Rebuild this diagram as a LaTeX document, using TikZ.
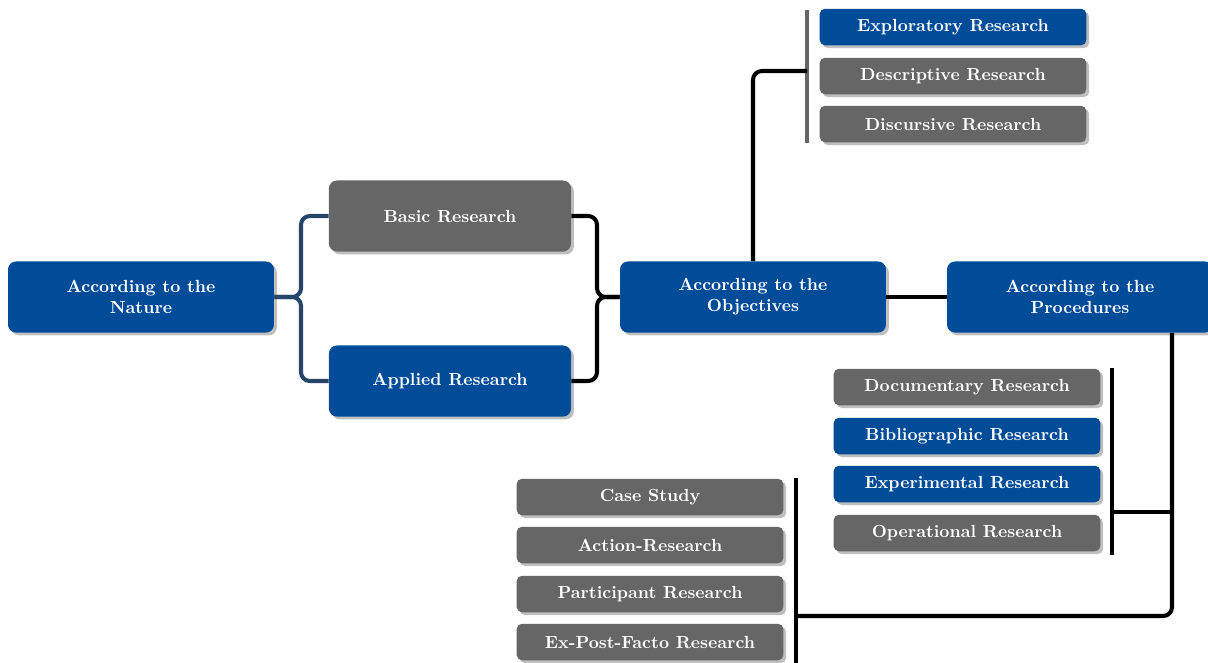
\documentclass[tikz,border=0pt]{standalone}
\usetikzlibrary{shadows}
\definecolor{boxblue}{RGB}{0,76,153}
\definecolor{boxgray}{RGB}{102,102,102}
\definecolor{bracecol}{RGB}{38,70,105}
\begin{document}
\begin{tikzpicture}[x=0.57pt,y=-0.57pt,
  base/.style={rounded corners=4.5pt, text=white, font=\bfseries, align=center,
    inner sep=0pt, drop shadow={shadow xshift=1.6pt, shadow yshift=-1.6pt, fill=black!25, opacity=1}},
  big/.style={base, minimum width=151.6pt, minimum height=40.5pt},
  mid/.style={base, minimum width=138pt, minimum height=40.5pt},
  small/.style={base, rounded corners=3pt, minimum width=152pt, minimum height=20.8pt},
  bluebox/.style={fill=boxblue},
  greybox/.style={fill=boxgray},
  link/.style={line width=2.3pt, rounded corners=5pt},
  bar/.style={line width=2.3pt},
]
\useasboundingbox (0,0) rectangle (1208,662);

% main row
\node[big, bluebox] (nat)  at (141,297)  {According to the\\Nature};
\node[mid, greybox] (bas)  at (450,216)  {Basic Research};
\node[mid, bluebox] (app)  at (450,381)  {Applied Research};
\node[big, bluebox] (obj)  at (753,297)  {According to the\\Objectives};
\node[big, bluebox] (proc) at (1080,297) {According to the\\Procedures};

% objectives list
\node[small, bluebox] (exp) at (953,27)  {Exploratory Research};
\node[small, greybox] (des) at (953,76)  {Descriptive Research};
\node[small, greybox] (dis) at (953,124) {Discursive Research};

% procedures list
\node[small, greybox] (doc) at (967,387) {Documentary Research};
\node[small, bluebox] (bib) at (967,436) {Bibliographic Research};
\node[small, bluebox] (exr) at (967,484) {Experimental Research};
\node[small, greybox] (ope) at (967,533) {Operational Research};

% lower list
\node[small, greybox] (cas) at (650,497) {Case Study};
\node[small, greybox] (act) at (650,545) {Action-Research};
\node[small, greybox] (par) at (650,594) {Participant Research};
\node[small, greybox] (exf) at (650,642) {Ex-Post-Facto Research};

% bars and junction points
\coordinate (tbA) at (807,10);
\coordinate (tbB) at (807,143);
\coordinate (tbJ) at (807,71);
\coordinate (rbA) at (1112,368);
\coordinate (rbB) at (1112,555);
\coordinate (rbJ) at (1112,512);
\coordinate (lbA) at (796,478);
\coordinate (lbB) at (796,666);
\coordinate (lbJ) at (796,616);
\coordinate (pv)  at (1172,0);
\coordinate (pvJ) at (1172,512);

\draw[bar, boxgray] (tbA) -- (tbB);
\draw[bar] (rbA) -- (rbB);
\draw[bar] (lbA) -- (lbB);

% connectors
\draw[link, bracecol] (bas.west) -| (301,297) -- (nat.east);
\draw[link, bracecol] (app.west) -| (301,297) -- (nat.east);
\draw[link] (bas.east) -| (597,297) -- (obj.west);
\draw[link] (app.east) -| (597,297) -- (obj.west);
\draw[link] (obj.east) -- (proc.west);
\draw[link] (obj.north) |- (tbJ);
\draw[link] (proc.south -| pv) |- (lbJ);
\draw[link] (pvJ) -- (rbJ);
\end{tikzpicture}
\end{document}
